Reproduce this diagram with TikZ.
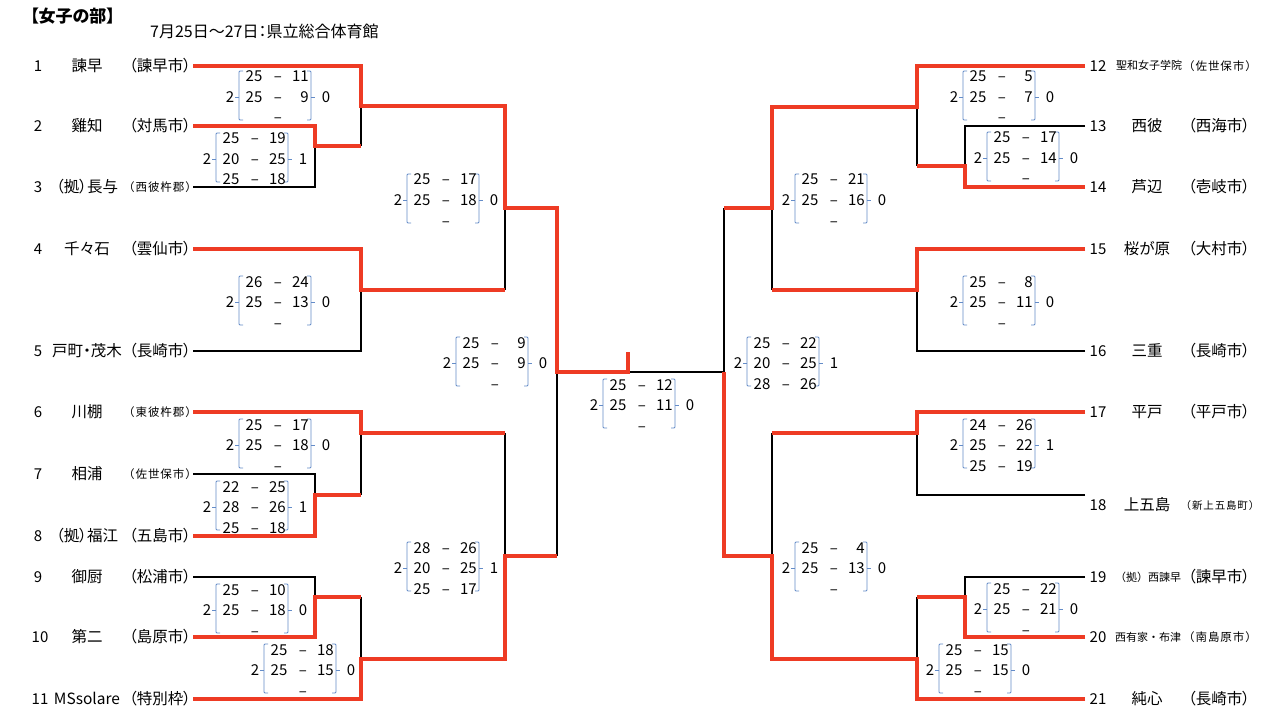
\documentclass[tikz,border=0pt]{standalone}
\usepackage{fontspec}
\newfontfamily\jpp[RawFeature=+palt]{Noto Sans CJK JP}
\newfontfamily\jpf{Noto Sans CJK JP}
\newfontfamily\jps[LetterSpace=8]{Noto Sans CJK JP}
\definecolor{win}{RGB}{238,59,36}
\definecolor{brk}{RGB}{100,140,200}
\tikzset{
  winline/.style={draw=win, line width=4pt, line join=miter},
  loseline/.style={draw=black, line width=2pt},
  brkline/.style={draw=brk, line width=0.9pt, rounded corners=1pt},
  sc/.style={font=\jpp\fontsize{15}{15}\selectfont, inner sep=0pt},
  tnum/.style={font=\jpp\fontsize{15}{15}\selectfont, inner sep=0pt, anchor=base},
  tname/.style={font=\jpp\fontsize{15.5}{15.5}\selectfont, inner sep=0pt, anchor=base},
  tsmall/.style={font=\jpf\fontsize{11}{11}\selectfont, inner sep=0pt, anchor=base},
  tpars/.style={font=\jps\fontsize{11.5}{11.5}\selectfont, inner sep=0pt, anchor=base},
}
\newcommand\scorebx[6]{%
  \begin{scope}[shift={(#2,#3)}]
    \draw[brkline] (4,-26) -- (0,-26) -- (0,23) -- (4,23);
    \draw[brkline] (0,0) -- (-4,0);
    \draw[brkline] (68,-26) -- (72,-26) -- (72,23) -- (68,23);
    \draw[brkline] (72,0) -- (76,0);
    \node[sc, anchor=base] (#1-l) at (-9,5.5) {#4};
    \node[sc, anchor=base] (#1-r) at (87,5.5) {#5};
    \foreach \a/\b [count=\i] in {#6}{
      \node[sc, anchor=base] (#1-a\i) at (15,{(\i-2)*20.5+5.5}) {\a};
      \node[sc, anchor=base] (#1-d\i) at (39,{(\i-2)*20.5+5.5}) {–};
      \node[sc, anchor=base east] (#1-b\i) at (70,{(\i-2)*20.5+5.5}) {\b};
    }
  \end{scope}}
\begin{document}
\begin{tikzpicture}[x=1pt,y=-1pt]
\fill[white] (0,0) rectangle (1274,714);
\useasboundingbox (0,0) rectangle (1274,714);

% titles
\node[font=\jpp\bfseries\fontsize{17}{17}\selectfont, inner sep=0pt, anchor=base west] (title) at (30,23) {【女子の部】};
\node[font=\jpp\fontsize{16}{16}\selectfont, inner sep=0pt, anchor=base west] (venue) at (150,38) {7月25日～27日：県立総合体育館};

% left team labels
\node[tnum] (n1) at (38,71.5) {1};   \node[tname] (m1n) at (87,71.5) {諫早};       \node[tname] (p1) at (160,71.5) {（諫早市）};
\node[tnum] (n2) at (38,131.5) {2};  \node[tname] (m2n) at (87,131.5) {雞知};      \node[tname] (p2) at (160,131.5) {（対馬市）};
\node[tnum] (n3) at (38,192.5) {3};  \node[tname] (m3n) at (87,192.5) {（拠）長与}; \node[tpars] (p3) at (160,191.5) {（西彼杵郡）};
\node[tnum] (n4) at (38,254.5) {4};  \node[tname] (m4n) at (87,254.5) {千々石};    \node[tname] (p4) at (160,254.5) {（雲仙市）};
\node[tnum] (n5) at (38,356.5) {5};  \node[tname] (m5n) at (87,356.5) {戸町・茂木}; \node[tname] (p5) at (160,356.5) {（長崎市）};
\node[tnum] (n6) at (38,417.5) {6};  \node[tname] (m6n) at (87,417.5) {川棚};      \node[tpars] (p6) at (160,416.5) {（東彼杵郡）};
\node[tnum] (n7) at (38,479.5) {7};  \node[tname] (m7n) at (87,479.5) {相浦};      \node[tpars] (p7) at (160,478.5) {（佐世保市）};
\node[tnum] (n8) at (38,541.5) {8};  \node[tname] (m8n) at (87,541.5) {（拠）福江}; \node[tname] (p8) at (160,541.5) {（五島市）};
\node[tnum] (n9) at (38,582.5) {9};  \node[tname] (m9n) at (87,582.5) {御厨};      \node[tname] (p9) at (160,582.5) {（松浦市）};
\node[tnum] (n10) at (40,642.5) {10}; \node[tname] (m10n) at (87,642.5) {第二};    \node[tname] (p10) at (160,642.5) {（島原市）};
\node[tnum] (n11) at (40,704.5) {11}; \node[tname] (m11n) at (87,704.5) {MSsolare}; \node[tname] (p11) at (160,704.5) {（特別枠）};

% right team labels
\node[tnum] (n12) at (1098,71.5) {12}; \node[tsmall] (m12n) at (1149,70) {聖和女子学院}; \node[tpars] (p12) at (1220,70.5) {（佐世保市）};
\node[tnum] (n13) at (1098,131.5) {13}; \node[tname] (m13n) at (1147,131.5) {西彼}; \node[tname] (p13) at (1219,131.5) {（西海市）};
\node[tnum] (n14) at (1098,192.5) {14}; \node[tname] (m14n) at (1147,192.5) {芦辺}; \node[tname] (p14) at (1219,192.5) {（壱岐市）};
\node[tnum] (n15) at (1098,254.5) {15}; \node[tname] (m15n) at (1147,254.5) {桜が原}; \node[tname] (p15) at (1219,254.5) {（大村市）};
\node[tnum] (n16) at (1098,356.5) {16}; \node[tname] (m16n) at (1147,356.5) {三重}; \node[tname] (p16) at (1219,356.5) {（長崎市）};
\node[tnum] (n17) at (1098,417.5) {17}; \node[tname] (m17n) at (1147,417.5) {平戸}; \node[tname] (p17) at (1219,417.5) {（平戸市）};
\node[tnum] (n18) at (1098,510.5) {18}; \node[tname] (m18n) at (1147,510.5) {上五島}; \node[font=\jps\fontsize{10.5}{10.5}\selectfont, inner sep=0pt, anchor=base] (p18) at (1220,509.5) {（新上五島町）};
\node[tnum] (n19) at (1098,582.5) {19}; \node[tsmall] (m19n) at (1148,581) {（拠）西諫早}; \node[tname] (p19) at (1219,582.5) {（諫早市）};
\node[tnum] (n20) at (1098,642.5) {20}; \node[tsmall] (m20n) at (1148,641) {西有家・布津}; \node[tpars] (p20) at (1220,641.5) {（南島原市）};
\node[tnum] (n21) at (1098,704.5) {21}; \node[tname] (m21n) at (1147,704.5) {純心}; \node[tname] (p21) at (1219,704.5) {（長崎市）};

% coordinates: left
\coordinate (L1) at (193,66);  \coordinate (L2) at (193,126); \coordinate (L3) at (193,187);
\coordinate (L4) at (193,249); \coordinate (L5) at (193,351); \coordinate (L6) at (193,412);
\coordinate (L7) at (193,474); \coordinate (L8) at (193,536); \coordinate (L9) at (193,577);
\coordinate (L10) at (193,637); \coordinate (L11) at (193,699);
\coordinate (m23) at (315,146); \coordinate (m1) at (361,106); \coordinate (m45) at (361,290);
\coordinate (m78) at (315,495); \coordinate (m6) at (361,433); \coordinate (m910) at (315,597);
\coordinate (m11) at (361,659); \coordinate (mL1) at (505,208); \coordinate (mL2) at (505,556);
\coordinate (mL) at (557,372); \coordinate (champ) at (628,352); \coordinate (fc) at (628,372);
% coordinates: right
\coordinate (R12) at (1085,66);  \coordinate (R13) at (1085,126); \coordinate (R14) at (1085,187);
\coordinate (R15) at (1085,249); \coordinate (R16) at (1085,351); \coordinate (R17) at (1085,412);
\coordinate (R18) at (1085,495); \coordinate (R19) at (1085,577); \coordinate (R20) at (1085,637);
\coordinate (R21) at (1085,699);
\coordinate (r1314) at (965,166); \coordinate (r12) at (917,107); \coordinate (r1516) at (917,290);
\coordinate (rT) at (772,208); \coordinate (r1718) at (917,433); \coordinate (r1920) at (965,597);
\coordinate (r21) at (917,659); \coordinate (rB) at (772,556); \coordinate (rS) at (724,372);

% losing lines
\draw[loseline] (L3) -| (m23);
\draw[loseline] (m23 -| m1) -- (m1);
\draw[loseline] (L5) -| (m45);
\draw[loseline] (mL1) -- (m45 -| mL1);
\draw[loseline] (L7) -| (m78);
\draw[loseline] (m6) -- (m78 -| m6);
\draw[loseline] (L9) -| (m910);
\draw[loseline] (m910 -| m11) -- (m11);
\draw[loseline] (m6 -| mL2) -- (mL2);
\draw[loseline] (mL2 -| mL) -- (mL);
\draw[loseline] (fc) -- (rS);
\draw[loseline] (rT -| rS) -- (rS);
\draw[loseline] (R13) -| (r1314);
\draw[loseline] (r12) -- (r1314 -| r12);
\draw[loseline] (R16) -| (r1516);
\draw[loseline] (rT) -- (r1516 -| rT);
\draw[loseline] (R18) -| (r1718);
\draw[loseline] (r1718 -| rB) -- (rB);
\draw[loseline] (R19) -| (r1920);
\draw[loseline] (r1920 -| r21) -- (r21);

% winning lines
\draw[winline] (L1) -| (m1) -| (mL1) -| (mL) -| (champ);
\draw[winline] (L2) -| (m23) -- (m23 -| m1);
\draw[winline] (L4) -| (m45) -- (m45 -| mL1);
\draw[winline] (L6) -| (m6) -- (m6 -| mL2);
\draw[winline] (L8) -| (m78) -- (m78 -| m6);
\draw[winline] (L10) -| (m910) -- (m910 -| m11);
\draw[winline] (L11) -| (m11) -| (mL2) -- (mL2 -| mL);
\draw[winline] (R12) -| (r12) -| (rT) -- (rT -| rS);
\draw[winline] (R14) -| (r1314) -- (r1314 -| r12);
\draw[winline] (R15) -| (r1516) -- (r1516 -| rT);
\draw[winline] (R17) -| (r1718) -- (r1718 -| rB);
\draw[winline] (R20) -| (r1920) -- (r1920 -| r21);
\draw[winline] (R21) -| (r21) -| (rB) -| (rS);

% score boxes left
\scorebx{LA}{239}{97}{2}{0}{25/11,25/9,{}/{}}
\scorebx{LB}{216}{159}{2}{1}{25/19,20/25,25/18}
\scorebx{LC}{239}{302}{2}{0}{26/24,25/13,{}/{}}
\scorebx{LD}{239}{445}{2}{0}{25/17,25/18,{}/{}}
\scorebx{LE}{216}{507}{2}{1}{22/25,28/26,25/18}
\scorebx{LF}{216}{610}{2}{0}{25/10,25/18,{}/{}}
\scorebx{LG}{264}{670}{2}{0}{25/18,25/15,{}/{}}
\scorebx{LH}{407}{200}{2}{0}{25/17,25/18,{}/{}}
\scorebx{LI}{407}{568}{2}{1}{28/26,20/25,25/17}
\scorebx{LJ}{456}{363}{2}{0}{25/9,25/9,{}/{}}
\scorebx{FN}{603}{405}{2}{0}{25/12,25/11,{}/{}}
% score boxes right
\scorebx{RA}{963}{97}{2}{0}{25/5,25/7,{}/{}}
\scorebx{RB}{987}{158}{2}{0}{25/17,25/14,{}/{}}
\scorebx{RC}{795}{200}{2}{0}{25/21,25/16,{}/{}}
\scorebx{RD}{963}{302}{2}{0}{25/8,25/11,{}/{}}
\scorebx{RE}{747}{363}{2}{1}{25/22,20/25,28/26}
\scorebx{RF}{963}{445}{2}{1}{24/26,25/22,25/19}
\scorebx{RG}{795}{568}{2}{0}{25/4,25/13,{}/{}}
\scorebx{RH}{987}{609}{2}{0}{25/22,25/21,{}/{}}
\scorebx{RI}{939}{670}{2}{0}{25/15,25/15,{}/{}}
\end{tikzpicture}
\end{document}
